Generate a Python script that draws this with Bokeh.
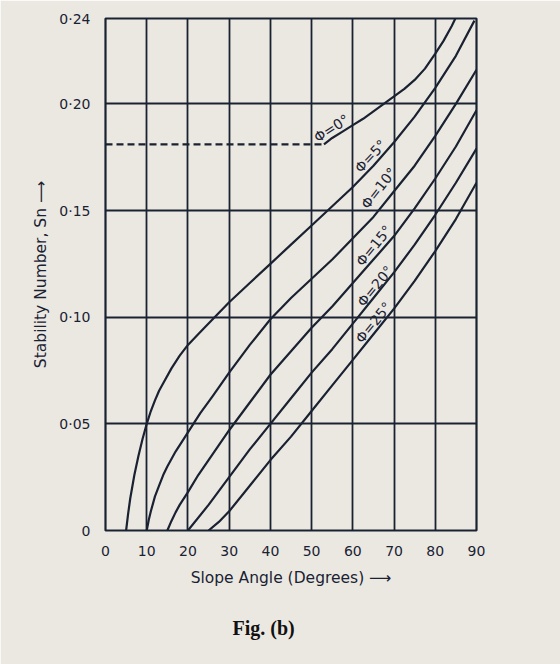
from bokeh.plotting import figure
from bokeh.models import FixedTicker, Title, ColumnDataSource
from bokeh.core.properties import value
from bokeh.embed import file_html
from bokeh.resources import INLINE
import math

# ---- data ----
x_ticks = [0, 10, 20, 30, 40, 50, 60, 70, 80, 90]
y_ticks = [0, 0.05, 0.10, 0.15, 0.20, 0.24]
y_tick_labels = ["0", "0·05", "0·10", "0·15", "0·20", "0·24"]

beta_phi0_dash = [0, 53]
sn_phi0_dash = [0.181, 0.181]
beta_phi0 = [53, 54, 55, 57.5, 60, 62.5, 65, 67.5, 70, 72.5, 75, 77.5, 80, 82, 84, 85]
sn_phi0 = [0.181, 0.1825, 0.184, 0.187, 0.190, 0.193, 0.1965, 0.200, 0.2035, 0.207,
           0.2112, 0.2165, 0.2235, 0.2295, 0.2365, 0.2405]

beta_phi5 = [5, 5.5, 6, 7, 8, 9, 10, 11, 12, 13, 14, 16, 18, 20, 23, 26, 30, 35, 40,
             45, 50, 55, 60, 65, 70, 75, 80, 85, 89.5]
sn_phi5 = [0, 0.008, 0.015, 0.026, 0.035, 0.043, 0.050, 0.056, 0.061, 0.0655, 0.069,
           0.076, 0.082, 0.087, 0.093, 0.099, 0.107, 0.116, 0.125, 0.134, 0.143, 0.152,
           0.161, 0.171, 0.182, 0.194, 0.2075, 0.2225, 0.239]

beta_phi10 = [10, 10.5, 11, 12, 13, 14, 15, 17, 20, 23, 26, 30, 35, 40, 45, 50, 55, 60,
              65, 70, 75, 80, 85, 90]
sn_phi10 = [0, 0.005, 0.009, 0.016, 0.021, 0.026, 0.030, 0.037, 0.046, 0.055, 0.063,
            0.074, 0.087, 0.099, 0.109, 0.118, 0.127, 0.137, 0.147, 0.159, 0.171, 0.185,
            0.200, 0.216]

beta_phi15 = [15, 16, 17, 18, 20, 22.5, 25, 27.5, 30, 35, 40, 45, 50, 55, 60, 65, 70,
              75, 80, 85, 90]
sn_phi15 = [0, 0.0045, 0.0085, 0.012, 0.018, 0.026, 0.033, 0.040, 0.047, 0.060, 0.073,
            0.084, 0.095, 0.105, 0.116, 0.127, 0.138, 0.151, 0.165, 0.180, 0.197]

beta_phi20 = [20, 25, 30, 35, 40, 45, 50, 55, 60, 65, 70, 75, 80, 85, 90]
sn_phi20 = [0, 0.012, 0.025, 0.038, 0.050, 0.062, 0.074, 0.085, 0.097, 0.109, 0.121,
            0.134, 0.148, 0.163, 0.179]

beta_phi25 = [25, 27.5, 30, 35, 40, 45, 50, 55, 60, 65, 70, 75, 80, 85, 90]
sn_phi25 = [0, 0.004, 0.009, 0.021, 0.033, 0.044, 0.056, 0.068, 0.080, 0.092, 0.104,
            0.117, 0.131, 0.146, 0.163]

curve_labels = ["Φ=0°", "Φ=5°", "Φ=10°", "Φ=15°", "Φ=20°", "Φ=25°"]
label_beta = [54.8, 64.3, 66.3, 65.1, 65.4, 65.0]
label_sn = [0.1885, 0.1755, 0.1605, 0.1335, 0.1145, 0.0975]
label_angle_deg = [33, 47, 52, 51, 51, 51]

# ---- styling ----
INK = "#1a2232"
PAPER = "#ebe8e2"
FONT = "DejaVu Sans"

p = figure(width=560, height=664, x_range=(0, 90), y_range=(0, 0.24),
           output_backend="svg", toolbar_location=None, tools="",
           min_border_left=105, min_border_right=84, min_border_top=18,
           min_border_bottom=132)
p.background_fill_color = PAPER
p.border_fill_color = PAPER
p.outline_line_color = INK
p.outline_line_width = 2.2

p.xgrid.ticker = FixedTicker(ticks=[10, 20, 30, 40, 50, 60, 70, 80])
p.ygrid.ticker = FixedTicker(ticks=[0.05, 0.10, 0.15, 0.20])
for g in (p.xgrid[0], p.ygrid[0]):
    g.grid_line_color = INK
    g.grid_line_width = 1.8
    g.grid_line_alpha = 1.0

for ax in (p.xaxis[0], p.yaxis[0]):
    ax.axis_line_color = None
    ax.major_tick_line_color = None
    ax.minor_tick_line_color = None
    ax.major_label_text_font = FONT
    ax.major_label_text_font_size = "14px"
    ax.major_label_text_color = INK
    ax.axis_label_text_font = FONT
    ax.axis_label_text_font_style = "normal"
    ax.axis_label_text_font_size = "15.5px"
    ax.axis_label_text_color = INK

p.xaxis.ticker = FixedTicker(ticks=x_ticks)
p.xaxis.major_label_standoff = 9
p.xaxis.axis_label = "Slope Angle (Degrees) ⟶"
p.xaxis.axis_label_standoff = 10

p.yaxis.ticker = FixedTicker(ticks=y_ticks)
p.yaxis.major_label_overrides = {t: l for t, l in zip(y_ticks, y_tick_labels)}
p.yaxis.major_label_standoff = 9
p.yaxis.axis_label = "Stability Number, Sn ⟶"
p.yaxis.axis_label_standoff = 6

# curves
p.line(beta_phi0_dash, sn_phi0_dash, line_color=INK, line_width=2.2, line_dash="7 4")
for bx, sy in [(beta_phi0, sn_phi0), (beta_phi5, sn_phi5), (beta_phi10, sn_phi10),
               (beta_phi15, sn_phi15), (beta_phi20, sn_phi20), (beta_phi25, sn_phi25)]:
    p.line(bx, sy, line_color=INK, line_width=2.2, line_join="round")

src = ColumnDataSource(dict(x=label_beta, y=label_sn, t=curve_labels,
                            a=[math.radians(d) for d in label_angle_deg]))
p.text(x="x", y="y", text="t", angle="a", source=src, text_font=value(FONT),
       text_font_size="14px", text_color=INK, text_align="center",
       text_baseline="middle")

fig_title = Title(text="Fig. (b)", align="left", offset=127, text_font="Liberation Serif",
                  text_font_size="20px", text_font_style="bold", text_color="#111111",
                  standoff=51)
p.add_layout(fig_title, "below")

open("out.html", "w").write(file_html(p, INLINE))
